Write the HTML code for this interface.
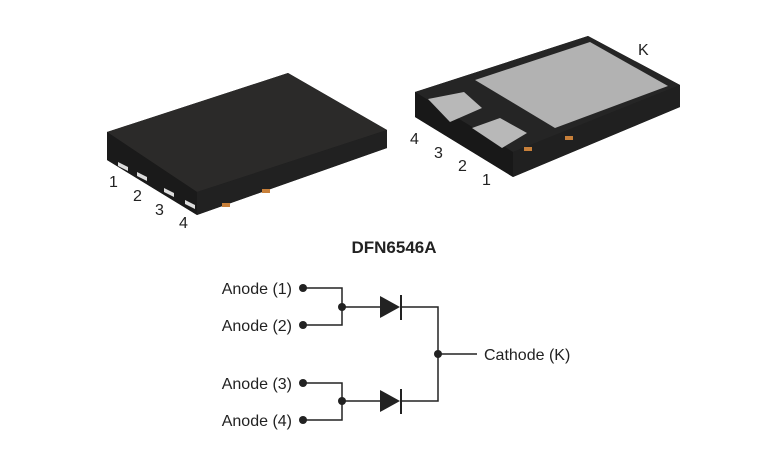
<!DOCTYPE html>
<html><head><meta charset="utf-8"><style>
html,body{margin:0;padding:0;background:#fff;}
svg{display:block;}
text{font-family:"Liberation Sans",Arial,sans-serif;fill:#222;}
</style></head><body>
<svg width="772" height="452" viewBox="0 0 772 452" xmlns="http://www.w3.org/2000/svg">
<!-- left package -->
<polygon points="107,132 288,73 387,130 387,148 197,215 107,160" fill="#1e1e1e"/>
<polygon points="107,132 288,73 387,130 197,192" fill="#2b2a29"/>
<polygon points="107,132 197,192 197,215 107,160" fill="#1a1a1a"/>
<polygon points="197,192 387,130 387,148 197,215" fill="#212121"/>
<polygon points="118,162 128,167 128,171 118,166" fill="#ddd"/>
<polygon points="137,172 147,177 147,181 137,176" fill="#ddd"/>
<polygon points="164,188 174,193 174,197 164,192" fill="#ddd"/>
<polygon points="185,200 195,205 195,209 185,204" fill="#ddd"/>
<rect x="222" y="203" width="8" height="4" fill="#c8803a"/>
<rect x="262" y="189" width="8" height="4" fill="#c8803a"/>
<text x="109" y="187" font-size="16">1</text>
<text x="133" y="201" font-size="16">2</text>
<text x="155" y="215" font-size="16">3</text>
<text x="179" y="228" font-size="16">4</text>
<!-- right package -->
<polygon points="415,92 588,36 680,85 680,107 513,177 415,117" fill="#1e1e1e"/>
<polygon points="415,92 588,36 680,85 513,152" fill="#252525"/>
<polygon points="415,92 513,152 513,177 415,117" fill="#181818"/>
<polygon points="513,152 680,85 680,107 513,177" fill="#202020"/>
<polygon points="475,80 590,42 668,86 555,128" fill="#b2b2b2"/>
<polygon points="428,99 464,92 482,108 450,122" fill="#b8b8b8"/>
<polygon points="472,128 500,118 527,133 502,148" fill="#b8b8b8"/>
<rect x="524" y="147" width="8" height="4" fill="#c8803a"/>
<rect x="565" y="136" width="8" height="4" fill="#c8803a"/>
<text x="410" y="144" font-size="16">4</text>
<text x="434" y="158" font-size="16">3</text>
<text x="458" y="171" font-size="16">2</text>
<text x="482" y="185" font-size="16">1</text>
<text x="638" y="55" font-size="16">K</text>
<!-- title -->
<text x="394" y="253" font-size="17" font-weight="bold" text-anchor="middle">DFN6546A</text>
<!-- circuit -->
<g stroke="#222" stroke-width="1.5" fill="none">
<polyline points="303,288 342,288 342,325 303,325"/>
<polyline points="303,383 342,383 342,420 303,420"/>
<line x1="342" y1="307" x2="380" y2="307"/>
<line x1="342" y1="401" x2="380" y2="401"/>
<polyline points="401,307 438,307 438,401 401,401"/>
<line x1="438" y1="354" x2="477" y2="354"/>
<line x1="401" y1="295" x2="401" y2="320" stroke-width="2"/>
<line x1="401" y1="389" x2="401" y2="414" stroke-width="2"/>
</g>
<g fill="#222">
<polygon points="380,296 400,307 380,318"/>
<polygon points="380,390 400,401 380,412"/>
<circle cx="303" cy="288" r="4"/><circle cx="303" cy="325" r="4"/>
<circle cx="303" cy="383" r="4"/><circle cx="303" cy="420" r="4"/>
<circle cx="342" cy="307" r="4"/><circle cx="342" cy="401" r="4"/>
<circle cx="438" cy="354" r="4"/>
</g>
<g font-size="16" text-anchor="end">
<text x="292" y="294">Anode (1)</text>
<text x="292" y="331">Anode (2)</text>
<text x="292" y="389">Anode (3)</text>
<text x="292" y="426">Anode (4)</text>
</g>
<text x="484" y="360" font-size="16">Cathode (K)</text>
</svg>
</body></html>
